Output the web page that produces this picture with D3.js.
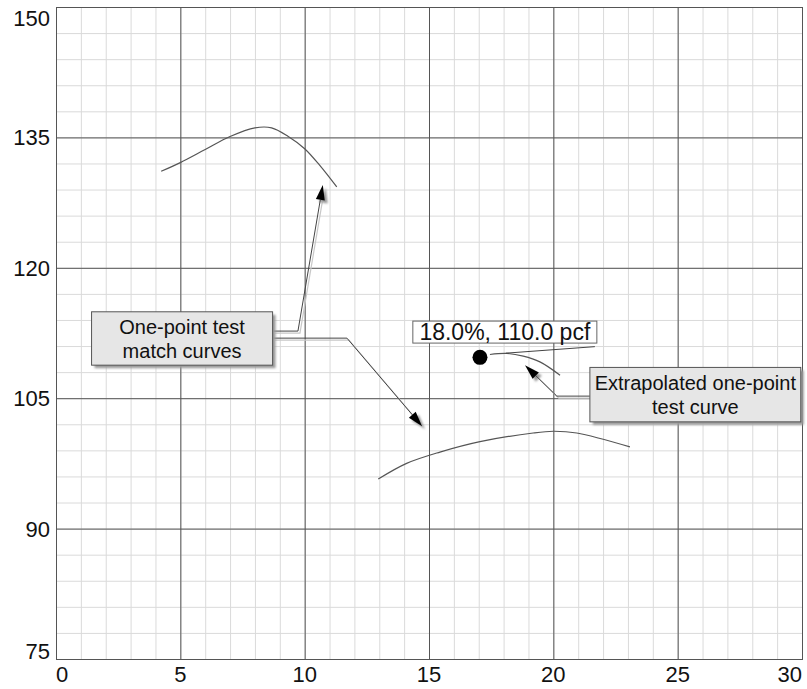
<!DOCTYPE html>
<html>
<head>
<meta charset="utf-8">
<script src="https://cdn.jsdelivr.net/npm/d3@7"></script>
<style>
  body { margin: 0; background: #fff; }
  svg text { font-family: "Liberation Sans", Arial, sans-serif; fill: #111; }
</style>
</head>
<body>
<div id="chart"></div>
<script>
// axis ticks
var xTicks = [0, 5, 10, 15, 20, 25, 30];
var yTicks = [75, 90, 105, 120, 135, 150];

// one-point test match curves (moisture %, dry density pcf)
var upperX = [4.23, 5.0, 6.0, 7.0, 8.0, 8.67, 9.34, 10.0, 10.6, 11.29];
var upperY = [131.1, 132.1, 133.6, 135.1, 136.1, 136.1, 135.1, 133.7, 131.8, 129.3];
var lowerX = [12.96, 14.1, 15.44, 17.05, 19.19, 20.0, 20.94, 23.08];
var lowerY = [95.7, 97.5, 98.8, 100.0, 101.0, 101.2, 101.0, 99.4];

// extrapolated one-point test curve
var extraX = [17.45, 18.12, 18.79, 19.46, 20.27];
var extraY = [110.03, 110.15, 109.84, 109.18, 107.65];

// test point
var pointX = 17.05, pointY = 109.7;
var pointLabel = "18.0%, 110.0 pcf";

var margin = {top: 7, right: 5, bottom: 30, left: 56},
    width = 807 - margin.left - margin.right,
    height = 689 - margin.top - margin.bottom;

var svg = d3.select("#chart")
  .append("svg")
    .attr("width", 807)
    .attr("height", 689);

var defs = svg.append("defs");
defs.append("filter").attr("id", "blur")
  .append("feGaussianBlur").attr("stdDeviation", 1.2);

var g = svg.append("g")
  .attr("transform", "translate(" + margin.left + "," + margin.top + ")");

var x = d3.scaleLinear().domain([0, 30]).range([0, width]);
var y = d3.scaleLinear().domain([75, 150]).range([height, 0]);

// minor grid
g.append("g").selectAll("line").data(d3.range(0, 31, 1)).enter().append("line")
  .attr("x1", d => x(d) + 0.5).attr("x2", d => x(d) + 0.5)
  .attr("y1", 0).attr("y2", height)
  .attr("stroke", "#dadada");
g.append("g").selectAll("line").data(d3.range(75, 151, 3)).enter().append("line")
  .attr("y1", d => y(d) + 0.5).attr("y2", d => y(d) + 0.5)
  .attr("x1", 0).attr("x2", width)
  .attr("stroke", "#dadada");

// major grid
g.append("g").selectAll("line").data(xTicks).enter().append("line")
  .attr("x1", d => x(d) + 0.5).attr("x2", d => x(d) + 0.5)
  .attr("y1", 0).attr("y2", height)
  .attr("stroke", "#555");
g.append("g").selectAll("line").data(yTicks).enter().append("line")
  .attr("y1", d => y(d) + 0.5).attr("y2", d => y(d) + 0.5)
  .attr("x1", 0).attr("x2", width)
  .attr("stroke", "#555");

// frame
g.append("rect").attr("x", 0.5).attr("y", 0.5)
  .attr("width", width).attr("height", height)
  .attr("fill", "none").attr("stroke", "#555");

// tick labels
g.append("g").selectAll("text").data(yTicks).enter().append("text")
  .attr("x", -6)
  .attr("y", d => y(d))
  .attr("dy", (d, i) => i == 0 ? "0" : (i == yTicks.length - 1 ? "0.86em" : "0.36em"))
  .attr("text-anchor", "end")
  .style("font-size", "22px")
  .text(d => d);
g.append("g").selectAll("text").data(xTicks).enter().append("text")
  .attr("x", d => x(d))
  .attr("y", height + 23)
  .attr("text-anchor", (d, i) => i == 0 ? "start" : (i == xTicks.length - 1 ? "end" : "middle"))
  .style("font-size", "22px")
  .text(d => d);

// curves
var line = d3.line().x(d => x(d[0])).y(d => y(d[1])).curve(d3.curveCatmullRom);
function drawCurve(xs, ys) {
  g.append("path")
    .attr("d", line(xs.map((v, i) => [v, ys[i]])))
    .attr("fill", "none").attr("stroke", "#555").attr("stroke-width", 1.2);
}
drawCurve(upperX, upperY);
drawCurve(lowerX, lowerY);
drawCurve(extraX, extraY);

// label pointer to the point
g.append("line")
  .attr("x1", x(18.09)).attr("y1", y(110.18))
  .attr("x2", x(21.67)).attr("y2", y(110.93))
  .attr("stroke", "#444");

// point
g.append("circle").attr("cx", x(pointX)).attr("cy", y(pointY)).attr("r", 7.5).attr("fill", "#000");

// point label
var lb = g.append("g");
lb.append("rect")
  .attr("x", x(14.35)).attr("y", y(113.87))
  .attr("width", x(21.75) - x(14.35)).attr("height", y(111.34) - y(113.87))
  .attr("fill", "#fff").attr("stroke", "#666");
lb.append("text")
  .attr("x", (x(14.35) + x(21.75)) / 2).attr("y", y(111.34) - 3)
  .attr("text-anchor", "middle")
  .style("font-size", "23px")
  .text(pointLabel);

// leader lines with arrows
function leader(pts) {
  var p = pts.map(d => [x(d[0]), y(d[1])]);
  var n = p.length;
  var tip = p[n - 1], prev = p[n - 2];
  var ang = Math.atan2(tip[1] - prev[1], tip[0] - prev[0]);
  var len = 15, hw = 4.5;
  var bx = tip[0] - len * Math.cos(ang), by = tip[1] - len * Math.sin(ang);
  var head = [tip,
    [bx + hw * Math.sin(ang), by - hw * Math.cos(ang)],
    [bx - hw * Math.sin(ang), by + hw * Math.cos(ang)]];
  var body = p.slice(0, n - 1).concat([[bx, by]]);
  var lg = g.append("g");
  lg.append("path")
    .attr("d", d3.line()(body.map(d => [d[0] + 2, d[1] + 2])))
    .attr("fill", "none").attr("stroke", "#c8c8c8").attr("stroke-width", 1.2);
  lg.append("path")
    .attr("d", d3.line()(head.map(d => [d[0] + 3, d[1] + 3])) + "Z")
    .attr("fill", "#999").attr("filter", "url(#blur)");
  lg.append("path")
    .attr("d", d3.line()(body))
    .attr("fill", "none").attr("stroke", "#444").attr("stroke-width", 1);
  lg.append("path")
    .attr("d", d3.line()(head) + "Z")
    .attr("fill", "#000");
}
leader([[8.73, 112.72], [9.73, 112.72], [10.73, 129.52]]);
leader([[8.73, 111.91], [11.70, 111.91], [14.72, 101.78]]);
leader([[21.47, 105.24], [20.14, 105.24], [18.86, 108.8]]);

// callout boxes
function callout(x0, y0, x1, y1, lines) {
  var cg = g.append("g");
  var bx = x(x0), by = y(y0), bw = x(x1) - x(x0), bh = y(y1) - y(y0);
  cg.append("rect").attr("x", bx + 3).attr("y", by + 3).attr("width", bw).attr("height", bh)
    .attr("fill", "#9a9a9a").attr("filter", "url(#blur)");
  cg.append("rect").attr("x", bx).attr("y", by).attr("width", bw).attr("height", bh)
    .attr("fill", "#e6e6e6").attr("stroke", "#555");
  cg.selectAll("text").data(lines).enter().append("text")
    .attr("x", bx + bw / 2)
    .attr("y", (d, i) => by + bh / 2 + (i - (lines.length - 1) / 2) * 24)
    .attr("dy", "0.36em")
    .attr("text-anchor", "middle")
    .style("font-size", "20px")
    .text(d => d);
}
callout(1.43, 114.94, 8.71, 108.8, ["One-point test", "match curves"]);
callout(21.47, 108.54, 29.95, 102.28, ["Extrapolated one-point", "test curve"]);
</script>
</body>
</html>
